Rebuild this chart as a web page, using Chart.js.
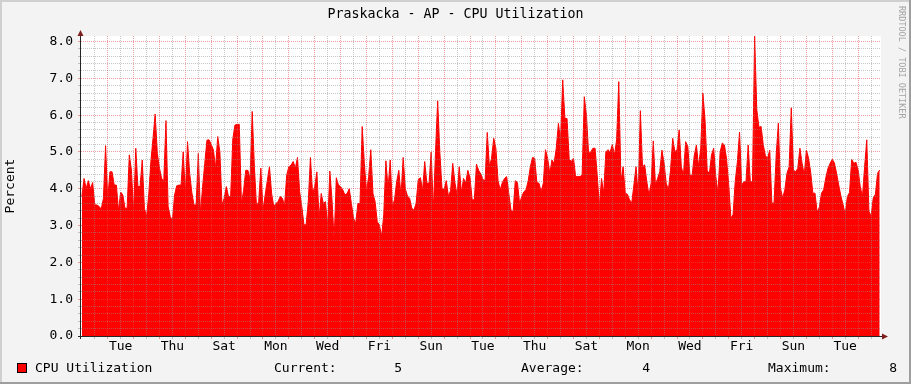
<!DOCTYPE html>
<html>
<head>
<meta charset="utf-8">
<script src="https://cdn.jsdelivr.net/npm/chart.js@4/dist/chart.umd.min.js"></script>
<style>
html,body{margin:0;padding:0;background:#f3f3f3;overflow:hidden}
canvas{display:block}
</style>
</head>
<body>
<canvas id="c" width="911" height="384"></canvas>
<script>
// ---------- data ----------
const chartTitle = 'Praskacka - AP - CPU Utilization';
const yTitle = 'Percent';
const seriesName = 'CPU Utilization';
const creditText = 'RRDTOOL / TOBI OETIKER';
const statNames = ['Current:', 'Average:', 'Maximum:'];

// time axis in hours, 0 = first midnight (start of the first Tuesday)
const axisStartHour = -24.8;
const axisEndHour = 717.2;
const firstSampleHour = -24;
const sampleStepHours = 2;

const dayLabels = ['Tue','Thu','Sat','Mon','Wed','Fri','Sun','Tue','Thu','Sat','Mon','Wed','Fri','Sun','Tue'];
const dayLabelHours = [12,60,108,156,204,252,300,348,396,444,492,540,588,636,684];

const yMajorValues = [0,1,2,3,4,5,6,7,8];
const yMajorLabels = ['0.0','1.0','2.0','3.0','4.0','5.0','6.0','7.0','8.0'];
const yMin = 0, yMax = 8.15;

const cpu = [
3.79,4.28,4.01,4.22,4.0,4.17,3.56,3.56,3.52,3.45,
3.74,5.17,3.7,4.46,4.46,4.1,4.1,3.4,3.91,3.83,
3.47,3.47,4.92,4.5,3.33,5.1,4.06,4.06,4.78,3.47,
3.24,3.83,4.74,5.37,6.03,4.96,4.56,4.28,4.22,5.85,
3.52,3.24,3.15,3.83,4.08,4.1,4.1,5.0,3.87,5.28,
4.42,3.9,3.56,3.56,4.96,3.33,4.06,4.69,5.32,5.33,
5.2,5.06,4.56,5.42,5.0,3.56,3.74,4.06,3.79,3.79,
5.35,5.73,5.75,5.75,3.6,3.95,4.5,4.5,4.26,6.1,
4.6,3.52,3.65,4.56,3.42,3.83,4.22,4.6,3.87,3.52,
3.6,3.65,3.79,3.74,3.54,4.37,4.6,4.64,4.74,4.56,
4.85,3.92,3.52,3.02,3.02,3.65,4.85,3.87,4.06,4.46,
3.2,3.87,3.6,3.65,2.97,4.48,3.7,2.6,4.3,4.1,
4.06,3.97,3.83,3.87,4.0,3.6,3.2,3.06,3.6,3.6,
5.69,4.69,3.92,4.33,5.06,3.87,3.65,3.1,3.02,2.7,
3.29,4.76,4.01,4.78,3.52,3.7,4.2,4.5,3.79,4.85,
4.0,3.8,3.74,3.47,3.42,3.6,4.25,4.3,3.95,4.74,
4.15,4.15,5.0,3.42,5.0,6.39,5.0,4.01,3.97,4.22,
3.79,3.95,4.69,4.17,3.83,4.6,3.9,4.28,4.15,4.5,
4.3,3.7,3.7,4.67,4.5,4.4,4.25,4.22,5.53,4.6,
4.83,5.37,5.1,4.22,3.97,4.17,4.28,4.33,3.87,3.42,
3.38,4.22,4.17,3.6,3.79,3.92,3.97,4.22,4.6,4.85,
4.83,4.17,4.15,3.92,4.15,5.06,4.83,4.42,4.78,4.69,
5.1,5.78,5.33,6.96,5.91,5.91,4.8,4.74,4.83,4.33,
4.33,4.33,4.37,6.5,6.0,4.96,5.0,5.1,5.1,4.37,
3.52,4.28,3.87,5.0,5.06,5.0,5.2,4.92,5.33,6.91,
4.19,4.6,3.88,3.85,3.7,3.61,4.1,4.6,3.83,6.12,
4.6,4.65,4.19,3.83,4.15,5.3,4.1,4.28,4.46,5.05,
4.7,4.15,3.97,4.5,5.37,5.01,5.05,5.6,4.6,4.37,
5.28,5.15,4.37,4.35,4.9,5.19,4.6,5.1,6.6,5.87,
4.5,4.4,4.92,5.1,4.33,3.88,5.0,5.24,5.19,4.8,
4.1,3.2,3.3,4.2,4.73,5.54,4.1,4.19,4.19,5.19,
4.19,4.19,8.15,6.15,5.67,5.69,5.19,4.9,4.83,5.05,
3.61,3.61,4.92,5.78,4.01,3.75,3.97,4.42,4.6,6.2,
4.51,4.46,4.55,5.1,4.69,4.37,5.05,4.83,4.44,3.88,
3.88,3.36,3.5,3.88,3.97,4.3,4.55,4.69,4.8,4.7,
4.42,4.1,3.8,3.57,3.3,3.79,3.9,4.8,4.69,4.72,
4.5,4.05,3.79,4.6,5.33,3.39,3.25,3.75,3.85,4.42,4.51
];

// ---------- styling ----------
const FONT = "'DejaVu Sans Mono', 'Liberation Mono', monospace";
const BG = '#f3f3f3';
const MAJOR_GRID = 'rgba(222,79,79,0.55)';
const MINOR_GRID = 'rgba(143,143,143,0.5)';
const AXIS = '#262626';
const ARROW = '#7f1f1f';

const points = cpu.map((v, i) => ({ x: firstSampleHour + i * sampleStepHours, y: v }));

const isMajorY = v => yMajorValues.some(m => Math.abs(m - v) < 1e-6);
const isMajorX = v => Math.abs(((v % 24) + 24) % 24) < 1e-6;

const decorPlugin = {
  id: 'decor',
  beforeDraw(chart) {
    const { ctx, chartArea: a, width, height } = chart;
    ctx.save();
    ctx.fillStyle = BG;
    ctx.fillRect(0, 0, width, height);
    // bevel
    ctx.fillStyle = '#cfcfcf';
    ctx.fillRect(0, 0, width, 2);
    ctx.fillRect(0, 0, 2, height);
    ctx.fillStyle = '#9e9e9e';
    ctx.fillRect(0, height - 2, width, 2);
    ctx.fillRect(width - 2, 0, 2, height);
    // canvas
    ctx.fillStyle = '#ffffff';
    ctx.fillRect(a.left, a.top, a.right - a.left, a.bottom - a.top);
    ctx.restore();
  },
  afterDraw(chart) {
    const { ctx, chartArea: a, width } = chart;
    ctx.save();
    // title
    ctx.fillStyle = '#000';
    ctx.font = '13.3px ' + FONT;
    ctx.textAlign = 'center';
    ctx.textBaseline = 'middle';
    ctx.fillText(chartTitle, width / 2, 14.5);

    // axes
    ctx.strokeStyle = AXIS;
    ctx.lineWidth = 1;
    ctx.beginPath();
    ctx.moveTo(a.left - 0.5, a.bottom + 3);
    ctx.lineTo(a.left - 0.5, a.top - 3);
    ctx.moveTo(a.left - 3, a.bottom + 0.5);
    ctx.lineTo(a.right + 2, a.bottom + 0.5);
    ctx.stroke();
    // arrows
    ctx.fillStyle = ARROW;
    ctx.beginPath();
    ctx.moveTo(a.left - 3.5, a.top);
    ctx.lineTo(a.left + 2.5, a.top);
    ctx.lineTo(a.left - 0.5, a.top - 6);
    ctx.closePath();
    ctx.fill();
    ctx.beginPath();
    ctx.moveTo(a.right + 1, a.bottom - 2.5);
    ctx.lineTo(a.right + 1, a.bottom + 3.5);
    ctx.lineTo(a.right + 7, a.bottom + 0.5);
    ctx.closePath();
    ctx.fill();

    // legend row
    const ly = 368.5;
    ctx.fillStyle = '#ff0000';
    ctx.fillRect(17, 363, 10, 10);
    ctx.strokeStyle = '#000';
    ctx.strokeRect(17.5, 363.5, 9, 9);
    ctx.fillStyle = '#000';
    ctx.font = '13px ' + FONT;
    ctx.textBaseline = 'middle';
    ctx.textAlign = 'left';
    ctx.fillText(seriesName, 35, ly);
    const cur = cpu[cpu.length - 1];
    const avg = cpu.reduce((s, v) => s + v, 0) / cpu.length;
    const max = Math.max(...cpu);
    const vals = [cur, avg, max].map(v => v.toFixed(0));
    const nameX = [274, 521, 768];
    const valRight = [402, 650, 897];
    statNames.forEach((n, k) => {
      ctx.textAlign = 'left';
      ctx.fillText(n, nameX[k], ly);
      ctx.textAlign = 'right';
      ctx.fillText(vals[k], valRight[k], ly);
    });

    // credit
    ctx.translate(901, 6);
    ctx.rotate(Math.PI / 2);
    ctx.fillStyle = '#a3a3a3';
    ctx.font = '8.5px ' + FONT;
    ctx.textAlign = 'left';
    ctx.textBaseline = 'middle';
    ctx.fillText(creditText, 0, 0);
    ctx.restore();
  }
};

Chart.defaults.font.family = FONT;
Chart.defaults.color = '#000';

new Chart(document.getElementById('c'), {
  type: 'line',
  data: {
    datasets: [{
      label: seriesName,
      data: points,
      borderColor: '#ff0000',
      backgroundColor: '#ff0000',
      borderWidth: 1,
      pointRadius: 0,
      fill: 'origin',
      tension: 0
    }]
  },
  options: {
    responsive: false,
    animation: false,
    devicePixelRatio: 1,
    events: [],
    layout: { padding: { left: 0, right: 30, top: 36, bottom: 26 } },
    plugins: {
      legend: { display: false },
      tooltip: { enabled: false },
      title: { display: false }
    },
    scales: {
      x: {
        type: 'linear',
        min: axisStartHour,
        max: axisEndHour,
        afterFit(s) { s.height = 22; },
        afterBuildTicks(axis) {
          const t = [];
          for (let h = -12; h <= axisEndHour; h += 12) t.push({ value: h });
          axis.ticks = t;
        },
        grid: {
          z: 1,
          color: c => isMajorX(c.tick.value) ? MAJOR_GRID : MINOR_GRID,
          tickColor: c => isMajorX(c.tick.value) ? MAJOR_GRID : MINOR_GRID,
          tickLength: 3,
          tickBorderDash: []
        },
        border: { display: false, dash: [1, 1] },
        ticks: {
          autoSkip: false,
          maxRotation: 0,
          padding: 0,
          font: { size: 13 },
          color: '#000',
          callback: v => {
            const k = dayLabelHours.indexOf(v);
            return k >= 0 ? dayLabels[k] : '';
          }
        }
      },
      y: {
        type: 'linear',
        min: yMin,
        max: yMax,
        afterFit(s) { s.width = 81; },
        afterBuildTicks(axis) {
          const t = [];
          for (let k = 0; k <= 40; k++) t.push({ value: k / 5 });
          axis.ticks = t;
        },
        grid: {
          z: 1,
          color: c => isMajorY(c.tick.value) ? MAJOR_GRID : MINOR_GRID,
          tickColor: c => isMajorY(c.tick.value) ? MAJOR_GRID : MINOR_GRID,
          tickLength: 3,
          tickBorderDash: []
        },
        border: { display: false, dash: [1, 1] },
        title: {
          display: true,
          text: yTitle,
          color: '#000',
          font: { size: 13, family: FONT },
          padding: { top: 3, bottom: 0 }
        },
        ticks: {
          autoSkip: false,
          padding: 5,
          font: { size: 13 },
          color: '#000',
          callback: v => {
            const k = yMajorValues.findIndex(m => Math.abs(m - v) < 1e-6);
            return k >= 0 ? yMajorLabels[k] : '';
          }
        }
      }
    }
  },
  plugins: [decorPlugin]
});
</script>
</body>
</html>
